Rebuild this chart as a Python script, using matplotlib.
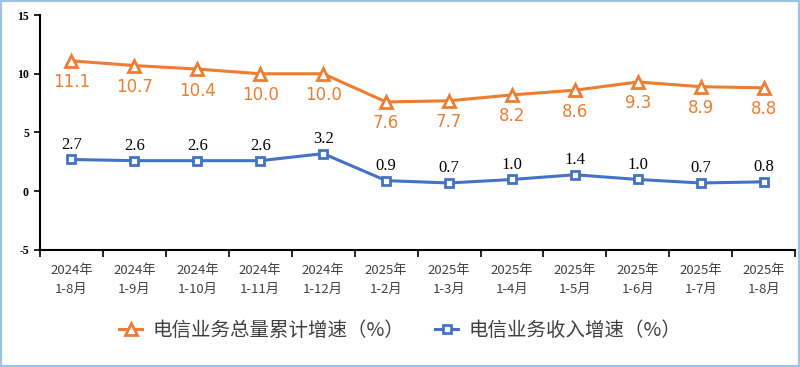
import numpy as np
import matplotlib.pyplot as plt
from matplotlib.patches import Rectangle

plt.rcParams['font.family'] = ['Noto Sans CJK SC', 'DejaVu Sans']

# ------------------------------------------------
# Data
# ------------------------------------------------
periods = ["2024年\n1-8月", "2024年\n1-9月", "2024年\n1-10月", "2024年\n1-11月",
           "2024年\n1-12月", "2025年\n1-2月", "2025年\n1-3月", "2025年\n1-4月",
           "2025年\n1-5月", "2025年\n1-6月", "2025年\n1-7月", "2025年\n1-8月"]
volume_growth = [11.1, 10.7, 10.4, 10.0, 10.0, 7.6, 7.7, 8.2, 8.6, 9.3, 8.9, 8.8]
revenue_growth = [2.7, 2.6, 2.6, 2.6, 3.2, 0.9, 0.7, 1.0, 1.4, 1.0, 0.7, 0.8]

ORANGE = "#ED7D31"
BLUE = "#4472C4"

fig = plt.figure(figsize=(8, 3.67), dpi=100)
ax = fig.add_axes([0.05, 0.319, 0.944, 0.64])

x = np.arange(len(periods))

ax.plot(x, volume_growth, color=ORANGE, lw=2.2, marker="^", ms=8,
        mfc="white", mec=ORANGE, mew=2, label="电信业务总量累计增速（%）", zorder=3)
ax.plot(x, revenue_growth, color=BLUE, lw=2.2, marker="s", ms=6,
        mfc="white", mec=BLUE, mew=2, label="电信业务收入增速（%）", zorder=3)

for xi, v in zip(x, volume_growth):
    ax.annotate(f"{v:.1f}", (xi, v), xytext=(0, -9), textcoords="offset points",
                ha="center", va="top", color=ORANGE, fontsize=12,
                family=["DejaVu Sans"])

for xi, v in zip(x, revenue_growth):
    ax.annotate(f"{v:.1f}", (xi, v), xytext=(0, 5), textcoords="offset points",
                ha="center", va="bottom", color="black", fontsize=12,
                family=["Liberation Serif"])

ax.set_xlim(-0.5, len(periods) - 0.5)
ax.set_ylim(-5, 15)
ax.set_yticks([-5, 0, 5, 10, 15])
ax.set_yticklabels(["-5", "0", "5", "10", "15"], family=["Liberation Serif"],
                   fontsize=8.5, fontweight="bold")

ax.set_xticks(np.arange(len(periods) + 1) - 0.5)
ax.set_xticklabels([])
ax.set_xticks(x, minor=True)
ax.set_xticklabels(periods, minor=True, fontsize=9.5, color="#404040", linespacing=1.6)
ax.tick_params(axis="x", which="major", length=5, width=1.2, direction="out")
ax.tick_params(axis="x", which="minor", length=0, pad=10)
ax.tick_params(axis="y", length=4, width=1.2, pad=4)

for side in ["top", "right"]:
    ax.spines[side].set_visible(False)
ax.spines["left"].set_linewidth(1.5)
ax.spines["bottom"].set_linewidth(1.5)

fig.legend(loc="center", bbox_to_anchor=(0.5, 0.1), ncol=2, frameon=False,
           fontsize=14, labelcolor="#404040", handlelength=1.2, columnspacing=1.6,
           handletextpad=0.5)

fig.patches.append(Rectangle((0, 0), 1, 1, transform=fig.transFigure, fill=False,
                             edgecolor="#9DC3E6", lw=3))

fig.savefig("out.png", dpi=100)
